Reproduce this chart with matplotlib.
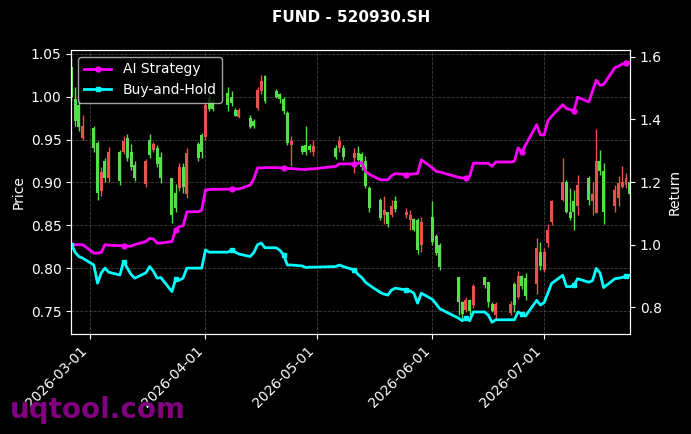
import numpy as np
import pandas as pd
import matplotlib
matplotlib.use("Agg")
import matplotlib.pyplot as plt
import matplotlib.dates as mdates

# trading days shown (holidays / missing days removed)
skip_days = ['2026-04-06', '2026-05-01', '2026-05-04', '2026-05-05',
             '2026-06-04', '2026-06-05', '2026-06-19']
dates = pd.bdate_range('2026-02-24', '2026-07-24')
dates = dates[~dates.isin(pd.to_datetime(skip_days))]

opens = [1.035, 0.998, 0.990, 0.952, 0.964, 0.946, 0.890, 0.925, 0.905, 0.936,
         0.936, 0.952, 0.935, 0.920, 0.898, 0.950, 0.938, 0.940, 0.930, 0.905,
         0.888, 0.893, 0.918, 0.886, 0.945, 0.955, 0.953, 0.999, 0.995, 1.005,
         1.000, 0.985, 0.976, 0.975, 0.972, 0.987, 1.007, 1.024, 1.007, 1.003,
         0.998, 0.981, 0.944, 0.942, 0.944, 0.943, 0.936, 0.940, 0.940, 0.940,
         0.929, 0.934, 0.933, 0.925, 0.893, 0.879, 0.862, 0.866, 0.862, 0.878,
         0.862, 0.856, 0.857, 0.856, 0.827, 0.860, 0.838, 0.827, 0.790, 0.760,
         0.751, 0.763, 0.757, 0.790, 0.784, 0.758, 0.745, 0.748, 0.782, 0.766,
         0.791, 0.788, 0.782, 0.819, 0.798, 0.829, 0.854, 0.880, 0.901, 0.866,
         0.878, 0.872, 0.905, 0.878, 0.864, 0.925, 0.913, 0.872, 0.882, 0.895,
         0.897, 0.901]
highs = [1.045, 1.012, 0.999, 0.979, 0.966, 0.948, 0.918, 0.928, 0.941, 0.938,
         0.954, 0.956, 0.945, 0.925, 0.927, 0.956, 0.947, 0.944, 0.935, 0.905,
         0.898, 0.923, 0.923, 0.940, 0.947, 0.958, 0.994, 1.003, 0.999, 1.011,
         1.007, 0.987, 0.987, 0.979, 0.974, 1.011, 1.026, 1.026, 1.009, 1.005,
         1.000, 0.983, 0.954, 0.944, 0.966, 0.945, 0.950, 0.944, 0.954, 0.944,
         0.940, 0.942, 0.935, 0.931, 0.896, 0.882, 0.884, 0.866, 0.880, 0.884,
         0.870, 0.868, 0.858, 0.858, 0.860, 0.878, 0.840, 0.829, 0.790, 0.762,
         0.766, 0.764, 0.782, 0.790, 0.784, 0.760, 0.760, 0.762, 0.784, 0.797,
         0.792, 0.794, 0.835, 0.831, 0.823, 0.852, 0.880, 0.929, 0.903, 0.893,
         0.891, 0.909, 0.907, 0.901, 0.962, 0.938, 0.923, 0.897, 0.907, 0.919,
         0.911, 0.903]
lows = [0.995, 0.966, 0.960, 0.950, 0.936, 0.880, 0.884, 0.901, 0.901, 0.897,
        0.933, 0.925, 0.914, 0.902, 0.895, 0.929, 0.935, 0.918, 0.899, 0.853,
        0.866, 0.890, 0.888, 0.882, 0.925, 0.928, 0.950, 0.983, 0.983, 0.983,
        0.989, 0.977, 0.975, 0.963, 0.964, 0.985, 1.003, 0.993, 0.999, 0.993,
        0.980, 0.944, 0.919, 0.933, 0.932, 0.936, 0.931, 0.927, 0.936, 0.926,
        0.911, 0.925, 0.915, 0.894, 0.866, 0.856, 0.851, 0.848, 0.860, 0.866,
        0.858, 0.844, 0.843, 0.817, 0.819, 0.827, 0.815, 0.798, 0.745, 0.741,
        0.749, 0.743, 0.754, 0.777, 0.755, 0.749, 0.741, 0.745, 0.749, 0.764,
        0.776, 0.763, 0.770, 0.798, 0.796, 0.825, 0.850, 0.878, 0.864, 0.856,
        0.845, 0.862, 0.874, 0.862, 0.864, 0.909, 0.852, 0.866, 0.872, 0.893,
        0.893, 0.885]
closes = [1.000, 0.972, 0.965, 0.966, 0.940, 0.888, 0.912, 0.905, 0.936, 0.902,
          0.948, 0.928, 0.918, 0.905, 0.925, 0.932, 0.945, 0.922, 0.905, 0.862,
          0.870, 0.918, 0.895, 0.934, 0.928, 0.935, 0.990, 0.986, 0.986, 0.990,
          0.993, 0.978, 0.985, 0.965, 0.966, 1.008, 1.018, 0.995, 1.000, 0.997,
          0.983, 0.946, 0.948, 0.935, 0.935, 0.938, 0.942, 0.930, 0.948, 0.930,
          0.934, 0.926, 0.918, 0.896, 0.870, 0.859, 0.868, 0.851, 0.873, 0.869,
          0.866, 0.862, 0.845, 0.821, 0.854, 0.831, 0.818, 0.801, 0.760, 0.747,
          0.763, 0.750, 0.779, 0.780, 0.760, 0.750, 0.758, 0.758, 0.757, 0.791,
          0.779, 0.768, 0.823, 0.803, 0.819, 0.844, 0.878, 0.901, 0.866, 0.858,
          0.866, 0.897, 0.880, 0.886, 0.925, 0.913, 0.866, 0.891, 0.899, 0.901,
          0.905, 0.887]

ai_return = [1.000, 1.000, 1.000, 1.000, 0.973, 0.973, 0.975, 1.000, 0.998, 0.997,
             0.997, 0.995, 0.995, 1.000, 1.010, 1.020, 1.018, 1.005, 1.005, 1.010,
             1.048, 1.058, 1.060, 1.105, 1.105, 1.110, 1.175, 1.176, 1.177, 1.177,
             1.178, 1.178, 1.178, 1.190, 1.210, 1.245, 1.245, 1.246, 1.246, 1.245,
             1.245, 1.243, 1.243, 1.240, 1.240, 1.242, 1.242, 1.250, 1.258, 1.258,
             1.258, 1.260, 1.262, 1.234, 1.225, 1.207, 1.207, 1.207, 1.220, 1.227,
             1.224, 1.225, 1.226, 1.227, 1.271, 1.245, 1.234, 1.232, 1.215, 1.213,
             1.213, 1.218, 1.260, 1.260, 1.260, 1.250, 1.264, 1.264, 1.266, 1.309,
             1.296, 1.318, 1.383, 1.351, 1.350, 1.395, 1.410, 1.447, 1.435, 1.431,
             1.428, 1.471, 1.456, 1.490, 1.525, 1.509, 1.512, 1.565, 1.570, 1.577,
             1.580, 1.581]
bh_return = [1.000, 0.975, 0.962, 0.957, 0.935, 0.877, 0.910, 0.925, 0.912, 0.903,
             0.946, 0.925, 0.905, 0.893, 0.910, 0.930, 0.915, 0.893, 0.895, 0.850,
             0.890, 0.887, 0.893, 0.925, 0.925, 0.925, 0.983, 0.976, 0.976, 0.976,
             0.983, 0.976, 0.970, 0.962, 0.975, 1.000, 1.005, 0.990, 0.990, 0.982,
             0.967, 0.935, 0.935, 0.932, 0.927, 0.928, 0.928, 0.930, 0.935, 0.930,
             0.919, 0.905, 0.895, 0.880, 0.871, 0.847, 0.842, 0.839, 0.855, 0.861,
             0.855, 0.852, 0.845, 0.813, 0.845, 0.825, 0.810, 0.795, 0.765, 0.757,
             0.765, 0.757, 0.785, 0.785, 0.775, 0.752, 0.760, 0.760, 0.760, 0.785,
             0.778, 0.772, 0.822, 0.807, 0.815, 0.845, 0.876, 0.902, 0.866, 0.866,
             0.870, 0.891, 0.880, 0.885, 0.924, 0.910, 0.863, 0.891, 0.893, 0.895,
             0.900, 0.902]

plt.style.use('dark_background')
fig, ax = plt.subplots(figsize=(6.91, 4.34), dpi=100)
fig.subplots_adjust(left=0.103, right=0.912, top=0.885, bottom=0.230)

o = np.array(opens)
c = np.array(closes)
up_color = '#e8524c'
down_color = '#55e04a'
colors = [up_color if cc >= oo else down_color for oo, cc in zip(o, c)]

ax.vlines(dates, lows, highs, color=colors, linewidth=1.0)
ax.bar(dates, np.abs(c - o), bottom=np.minimum(o, c), width=0.8,
       color=colors)

ax.set_ylim(0.723, 1.0547)
ax.set_xlim(pd.Timestamp('2026-02-23 22:00'), pd.Timestamp('2026-07-24 03:00'))
ax.set_ylabel('Price')
ax.grid(True, linestyle='--', color='gray', alpha=0.5, linewidth=0.6)
ax.xaxis.set_major_locator(mdates.MonthLocator())
ax.xaxis.set_major_formatter(mdates.DateFormatter('%Y-%m-%d'))
plt.setp(ax.get_xticklabels(), rotation=45, ha='right')

ax2 = ax.twinx()
ax2.plot(dates, ai_return, color='#ff00ff', linewidth=2, marker='o',
         markersize=3.5, markevery=10, label='AI Strategy')
ax2.plot(dates, bh_return, color='#00ffff', linewidth=2, marker='s',
         markersize=3.5, markevery=10, label='Buy-and-Hold')
ax2.set_ylim(0.714, 1.622)
ax2.set_ylabel('Return')
ax2.legend(loc='upper left')

ax.set_title('FUND - 520930.SH', fontsize=11, fontweight='bold', pad=20)

fig.text(0.014, 0.037, 'uqtool.com', fontsize=20, fontweight='bold',
         color='#800080', va='baseline', ha='left')

fig.savefig('out.png', dpi=100)
